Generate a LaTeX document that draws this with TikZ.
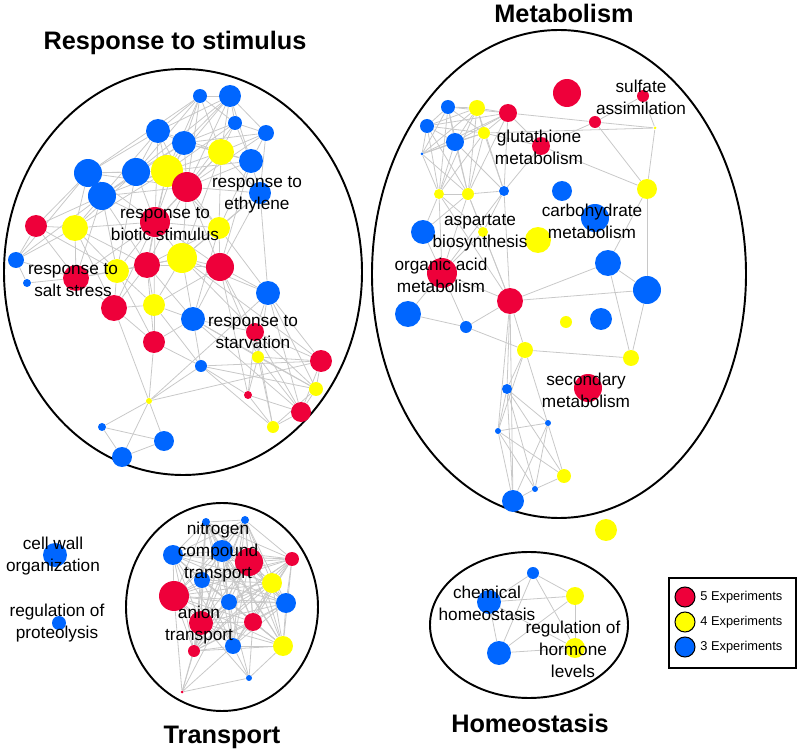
\documentclass[tikz,border=0pt]{standalone}
\usepackage{fontspec}
\setmainfont{Liberation Sans}
\usetikzlibrary{backgrounds}
\definecolor{cRed}{RGB}{238,0,58}
\definecolor{cYel}{RGB}{255,255,0}
\definecolor{cBlu}{RGB}{0,102,255}
\definecolor{cEdge}{RGB}{200,200,200}

\begin{document}
\begin{tikzpicture}[
  x=0.02cm, y=-0.02cm,
  rd/.style={circle, fill=cRed, inner sep=0pt, minimum size=#1*0.4mm},
  yl/.style={circle, fill=cYel, inner sep=0pt, minimum size=#1*0.4mm},
  bl/.style={circle, fill=cBlu, inner sep=0pt, minimum size=#1*0.4mm},
  edge/.style={draw=cEdge, line width=0.45pt},
  group/.style={draw, line width=1.1pt},
  lbl/.style={font=\fontsize{9.8}{12.5}\selectfont, align=center, inner sep=0pt},
  title/.style={font=\fontsize{14.4}{16}\selectfont\bfseries, inner sep=0pt},
  keydot/.style={circle, draw, line width=0.6pt, inner sep=0pt, minimum size=4mm},
  keytxt/.style={font=\fontsize{7.3}{9}\selectfont, anchor=west, inner sep=0pt},
]
\useasboundingbox (0,0) rectangle (799,753);

% ---- group outlines
\draw[group] (183,272) ellipse [x radius=179, y radius=203];
\draw[group] (559,274) ellipse [x radius=187, y radius=244];
\draw[group] (222,607) ellipse [x radius=96, y radius=104];
\draw[group] (529,625) ellipse [x radius=99, y radius=73];

\node[title] (tResp) at (175,43) {Response to stimulus};
\node[title] (tMeta) at (564,13) {Metabolism};
\node[title] (tTran) at (222,737) {Transport};
\node[title] (tHome) at (530,723) {Homeostasis};

% ---- response to stimulus
\node[bl=7]  (r1)  at (200,96)  {};
\node[bl=11] (r2)  at (230,96)  {};
\node[bl=7]  (r3)  at (235,123) {};
\node[bl=8]  (r4)  at (266,133) {};
\node[bl=12] (r5)  at (158,131) {};
\node[bl=12] (r6)  at (184,143) {};
\node[bl=14] (r7)  at (88,173)  {};
\node[bl=14] (r8)  at (136,172) {};
\node[yl=16] (r9)  at (167,171) {};
\node[rd=15] (r10) at (187,187) {};
\node[bl=14] (r11) at (102,196) {};
\node[yl=13] (r12) at (221,152) {};
\node[bl=12] (r13) at (251,161) {};
\node[bl=11] (r14) at (260,193) {};
\node[rd=15] (r15) at (155,222) {};
\node[rd=11] (r16) at (36,226)  {};
\node[yl=13] (r17) at (75,228)  {};
\node[yl=11] (r18) at (219,228) {};
\node[bl=8]  (r19) at (16,260)  {};
\node[bl=4]  (r20) at (27,283)  {};
\node[rd=13] (r21) at (76,278)  {};
\node[yl=12] (r22) at (117,271) {};
\node[rd=13] (r23) at (147,265) {};
\node[yl=15] (r24) at (182,258) {};
\node[rd=14] (r25) at (220,267) {};
\node[rd=13] (r26) at (114,308) {};
\node[yl=11] (r27) at (154,305) {};
\node[bl=12] (r28) at (193,319) {};
\node[bl=12] (r29) at (268,293) {};
\node[rd=11] (r30) at (154,342) {};
\node[rd=9]  (r31) at (255,332) {};
\node[yl=6]  (r32) at (258,357) {};
\node[bl=6]  (r33) at (201,366) {};
\node[rd=11] (r34) at (321,361) {};
\node[yl=7]  (r35) at (316,389) {};
\node[rd=4]  (r36) at (248,395) {};
\node[rd=10] (r37) at (301,412) {};
\node[yl=6]  (r38) at (273,427) {};
\node[yl=3]  (r39) at (149,401) {};
\node[bl=4]  (r40) at (102,427) {};
\node[bl=10] (r41) at (164,441) {};
\node[bl=10] (r42) at (122,457) {};

\node[lbl] (lBio) at (165,224) {response to\\biotic stimulus};
\node[lbl] (lEth) at (257,195) {response to\\ethylene};
\node[lbl] (lSal) at (73,280)  {response to\\salt stress};
\node[lbl] (lSta) at (253,332) {response to\\starvation};

\begin{scope}[on background layer]
\foreach \a/\b in {r1/r2,r1/r5,r1/r6,r1/r8,r1/r9,r1/r10,r1/r12,r1/r3,r1/r7,
  r2/r3,r2/r4,r2/r6,r2/r9,r2/r10,r2/r12,r2/r13,r2/r5,r2/r8,
  r3/r4,r3/r6,r3/r9,r3/r12,r3/r13,r3/r10,r4/r12,r4/r13,r4/r6,r4/r10,r4/r14,
  r5/r6,r5/r7,r5/r8,r5/r9,r5/r10,r5/r11,r5/r12,r5/r15,
  r6/r8,r6/r9,r6/r10,r6/r12,r6/r13,r6/r15,r6/r11,
  r7/r8,r7/r11,r7/r9,r7/r16,r7/r17,r7/r15,r7/r10,r7/r19,
  r8/r9,r8/r10,r8/r11,r8/r15,r8/r17,r8/r22,
  r9/r10,r9/r11,r9/r12,r9/r13,r9/r15,r9/r18,r9/r17,r9/r23,
  r10/r12,r10/r13,r10/r14,r10/r15,r10/r18,r10/r24,r10/r25,r10/r11,r10/r23,
  r11/r15,r11/r16,r11/r17,r11/r21,r11/r22,r11/r23,r11/r19,
  r12/r13,r12/r14,r12/r18,r12/r15,r12/r24,r13/r14,r13/r18,r13/r25,
  r14/r18,r14/r25,r14/r24,r14/r29,
  r15/r17,r15/r18,r15/r22,r15/r23,r15/r24,r15/r25,r15/r21,r15/r26,r15/r27,
  r16/r17,r16/r19,r16/r21,r16/r22,r17/r21,r17/r22,r17/r23,r17/r19,r17/r26,
  r18/r24,r18/r25,r18/r23,r18/r29,r18/r28,r19/r20,r19/r21,
  r21/r22,r21/r26,r21/r20,r21/r23,r22/r23,r22/r26,r22/r27,r22/r24,r22/r30,
  r23/r24,r23/r26,r23/r27,r23/r28,r23/r30,r23/r25,
  r24/r25,r24/r27,r24/r28,r24/r29,r24/r31,r24/r34,r25/r29,r25/r28,r25/r31,r25/r27,r25/r32,r25/r36,
  r26/r27,r26/r30,r26/r39,r27/r28,r27/r30,r27/r33,r28/r30,r28/r31,r28/r33,r28/r32,r28/r37,r28/r35,
  r29/r31,r29/r32,r29/r34,r29/r35,r29/r37,r30/r39,r30/r33,
  r31/r32,r31/r34,r31/r35,r31/r36,r31/r37,r31/r38,
  r32/r34,r32/r35,r32/r36,r32/r38,r32/r37,r33/r36,r33/r38,r33/r39,r33/r35,r33/r34,
  r34/r35,r34/r37,r35/r37,r35/r38,r36/r37,r36/r38,r37/r38,
  r39/r40,r39/r41,r39/r42,r39/r29,r39/r34,r40/r41,r40/r42,r41/r42}
  \draw[edge] (\a) -- (\b);
\end{scope}

% ---- metabolism
\node[rd=14] (m1)  at (567,93)  {};
\node[bl=7]  (m2)  at (448,107) {};
\node[yl=8]  (m3)  at (477,108) {};
\node[rd=9]  (m4)  at (508,113) {};
\node[bl=7]  (m5)  at (427,126) {};
\node[yl=6]  (m6)  at (484,133) {};
\node[bl=9]  (m7)  at (455,142) {};
\node[rd=9]  (m8)  at (541,146) {};
\node[rd=6]  (m9)  at (595,122) {};
\node[rd=6]  (m10) at (643,96)  {};
\node[yl=1.5] (m11) at (655,128) {};
\node[bl=1.5] (m12) at (422,154) {};
\node[yl=5]  (m13) at (439,194) {};
\node[yl=6]  (m14) at (468,194) {};
\node[bl=5]  (m15) at (504,191) {};
\node[bl=10] (m16) at (562,191) {};
\node[yl=10] (m17) at (647,189) {};
\node[bl=12] (m18) at (423,232) {};
\node[yl=5]  (m19) at (483,232) {};
\node[yl=13] (m20) at (538,240) {};
\node[bl=14] (m21) at (595,218) {};
\node[rd=15] (m22) at (442,273) {};
\node[bl=13] (m23) at (608,263) {};
\node[bl=14] (m24) at (647,290) {};
\node[bl=13] (m25) at (408,314) {};
\node[rd=13] (m26) at (510,301) {};
\node[bl=6]  (m27) at (466,327) {};
\node[yl=6]  (m28) at (566,322) {};
\node[bl=11] (m29) at (601,319) {};
\node[yl=8]  (m30) at (525,350) {};
\node[yl=8]  (m31) at (631,358) {};
\node[rd=14] (m32) at (588,388) {};
\node[bl=5]  (m33) at (507,389) {};
\node[bl=3]  (m34) at (548,423) {};
\node[bl=3]  (m35) at (498,431) {};
\node[yl=7]  (m36) at (564,476) {};
\node[bl=3]  (m37) at (535,489) {};
\node[bl=11] (m38) at (513,501) {};
\node[yl=11] (m39) at (606,530) {};

\node[lbl] (lSul) at (641,97)  {sulfate\\assimilation};
\node[lbl] (lGlu) at (539,147) {glutathione\\metabolism};
\node[lbl] (lCar) at (592,221) {carbohydrate\\metabolism};
\node[lbl] (lAsp) at (480,233) {aspartate\\biosynthesis};
\node[lbl] (lOrg) at (441,275) {organic acid\\metabolism};
\node[lbl] (lSec) at (586,390) {secondary\\metabolism};

\begin{scope}[on background layer]
\foreach \a/\b in {m2/m3,m2/m4,m2/m5,m2/m6,m2/m7,m2/m12,m2/m13,m2/m14,
  m3/m4,m3/m5,m3/m6,m3/m7,m3/m12,m3/m13,m3/m14,m3/m15,
  m4/m6,m4/m7,m4/m8,m4/m5,m4/m12,m4/m14,m4/m15,m4/m9,
  m5/m6,m5/m7,m5/m12,m5/m13,m5/m14,m6/m7,m6/m12,m6/m13,m6/m14,m6/m15,m6/m8,m6/m11,
  m7/m12,m7/m13,m7/m14,m7/m15,m12/m13,m12/m14,
  m13/m14,m13/m18,m13/m19,m13/m22,m13/m26,m14/m15,m14/m19,m14/m18,m14/m22,m14/m26,
  m15/m8,m15/m26,m15/m22,m15/m19,
  m8/m9,m9/m10,m9/m11,m10/m11,m9/m17,m11/m17,m8/m17,
  m17/m23,m17/m24,m23/m24,m23/m31,m24/m31,m23/m26,m24/m26,
  m26/m22,m26/m19,m26/m27,m26/m30,m26/m33,m26/m35,m26/m38,
  m22/m25,m22/m18,m22/m19,m22/m27,m25/m27,m27/m30,
  m30/m31,m30/m33,m30/m35,m30/m36,
  m33/m34,m33/m35,m33/m38,m33/m37,m33/m36,m35/m34,m35/m36,m35/m37,m35/m38,
  m34/m37,m34/m38,m36/m37,m37/m38}
  \draw[edge] (\a) -- (\b);
\end{scope}

% ---- transport
\node[bl=4]  (t1)  at (206,522) {};
\node[bl=4]  (t2)  at (245,520) {};
\node[bl=10] (t3)  at (173,555) {};
\node[bl=11] (t4)  at (222,551) {};
\node[rd=14] (t5)  at (249,562) {};
\node[rd=7]  (t6)  at (292,559) {};
\node[bl=8]  (t7)  at (202,580) {};
\node[yl=10] (t8)  at (272,583) {};
\node[rd=15] (t9)  at (174,596) {};
\node[bl=8]  (t10) at (229,602) {};
\node[bl=10] (t11) at (286,603) {};
\node[rd=12] (t12) at (201,623) {};
\node[rd=9]  (t13) at (253,622) {};
\node[bl=8]  (t14) at (233,646) {};
\node[yl=10] (t15) at (283,646) {};
\node[rd=6]  (t16) at (194,651) {};
\node[bl=3]  (t17) at (249,678) {};
\node[rd=1.5] (t18) at (182,692) {};

\node[lbl] (lNit) at (218,552) {nitrogen\\compound\\transport};
\node[lbl] (lAni) at (199,625) {anion\\transport};

\begin{scope}[on background layer]
\foreach \i [evaluate=\i as \k using int(\i+1)] in {1,...,15}
  \foreach \j in {\k,...,16}
    \draw[edge] (t\i) -- (t\j);
\foreach \a/\b in {t17/t10,t17/t12,t17/t13,t17/t14,t17/t15,t17/t18,
  t18/t9,t18/t10,t18/t12,t18/t14,t18/t16}
  \draw[edge] (\a) -- (\b);
\end{scope}

% ---- homeostasis
\node[bl=6]  (h1) at (533,573) {};
\node[bl=12] (h2) at (489,602) {};
\node[yl=9]  (h3) at (575,596) {};
\node[bl=12] (h4) at (499,653) {};
\node[yl=10] (h5) at (575,648) {};

\node[lbl] (lChe) at (487,603) {chemical\\homeostasis};
\node[lbl] (lHor) at (573,649) {regulation of\\hormone\\levels};

\begin{scope}[on background layer]
\foreach \a/\b in {h1/h2,h1/h3,h1/h4,h1/h5,h2/h3,h2/h4,h2/h5,h3/h4,h3/h5,h4/h5}
  \draw[edge] (\a) -- (\b);
\end{scope}

% ---- single terms
\node[bl=12] (c1) at (55,555) {};
\node[bl=7]  (c2) at (59,623) {};
\node[lbl] (lCel) at (53,556) {cell wall\\organization};
\node[lbl] (lPro) at (57,623) {regulation of\\proteolysis};

% ---- legend
\draw[line width=1.1pt] (669,578) rectangle (796,668);
\node[keydot, fill=cRed] (k5) at (685,597) {};
\node[keydot, fill=cYel] (k4) at (685,622) {};
\node[keydot, fill=cBlu] (k3) at (685,647) {};
\node[keytxt] (k5t) at (700,597) {5 Experiments};
\node[keytxt] (k4t) at (700,622) {4 Experiments};
\node[keytxt] (k3t) at (700,647) {3 Experiments};
\end{tikzpicture}
\end{document}
